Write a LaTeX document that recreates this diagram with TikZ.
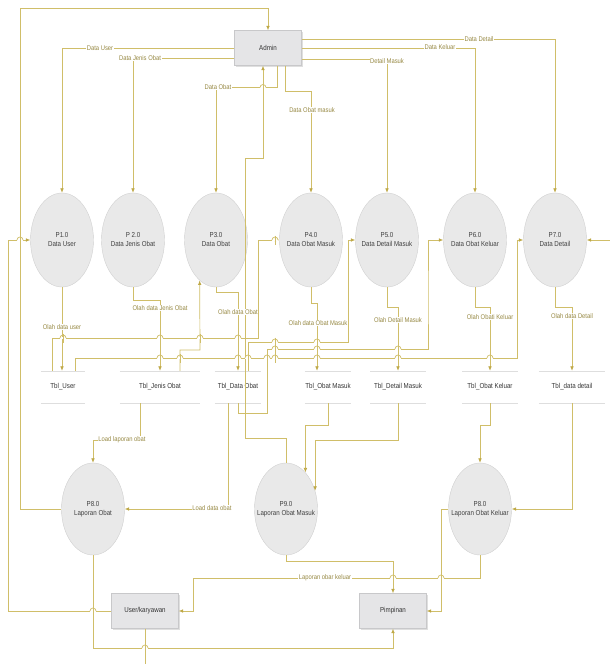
\documentclass[tikz,border=0pt]{standalone}
\usepackage{fontspec}
\setmainfont{Liberation Sans}[FakeStretch=0.86]
\usetikzlibrary{shapes.geometric, arrows, arrows.meta, shadows}

% small bump where a flow passes over another one
\newcommand{\linehop}[2]{%
  \fill[white] (#1-3.4,#2-1.2) rectangle (#1+3.4,#2+1.2);
  \draw[flow] (#1-3,#2) arc[start angle=180, end angle=0, radius=3pt];
  \draw[flow] (#1,#2-4.5) -- (#1,#2+4.5);}

\begin{document}
\begin{tikzpicture}[x=1pt, y=-1pt, >={Latex[length=4.5pt, width=3.6pt, color=tipgold]},
    proc/.style={ellipse, draw=procborder, fill=procfill, minimum width=63pt, minimum height=94pt, inner sep=0pt,
      label={[align=center, font=\fontsize{7.2}{9}\selectfont, text=black!75]center:{#1}}},
    entity/.style={rectangle, draw=boxborder, fill=boxfill, minimum width=67pt, minimum height=35pt,
      font=\fontsize{7.2}{9}\selectfont, text=black!80, drop shadow={opacity=0.25, shadow xshift=1.2pt, shadow yshift=-1.5pt}},
    store/.style={minimum height=32pt, inner sep=0pt, font=\fontsize{7.2}{9}\selectfont, text=black!80,
      append after command={(\tikzlastnode.north west) edge[storeline] (\tikzlastnode.north east)
        (\tikzlastnode.south west) edge[storeline] (\tikzlastnode.south east)}},
    storeline/.style={draw=storegrey, line width=0.6pt},
    flow/.style={draw=flowgold, line width=0.7pt},
    lbl/.style={fill=white, inner sep=0.6pt, text=lbltext, font=\fontsize{6.8}{8}\selectfont}]

    % Colours of the diagram
    \definecolor{flowgold}{RGB}{208,190,105}   % pale gold of the flows
    \definecolor{tipgold}{RGB}{190,168,70}     % arrow heads
    \definecolor{lbltext}{RGB}{150,136,66}     % olive text on the flows
    \definecolor{procfill}{RGB}{233,233,233}   % grey of the processes
    \definecolor{procborder}{RGB}{208,208,208}
    \definecolor{boxfill}{RGB}{229,229,231}    % grey of the entities
    \definecolor{boxborder}{RGB}{200,200,202}
    \definecolor{storegrey}{RGB}{222,222,222}  % lines of the data stores

    \useasboundingbox (0,0) rectangle (610,664);

    % External entities
    \node[entity] (admin) at (268,48) {Admin};
    \node[entity] (user) at (145,611) {User/karyawan};
    \node[entity] (pim) at (393,611) {Pimpinan};

    % Processes of the first row
    \node[proc={P1.0\\Data User}] (p1) at (62,240) {};
    \node[proc={P 2.0\\Data Jenis Obat}] (p2) at (133,240) {};
    \node[proc={P3.0\\Data Obat}] (p3) at (216,240) {};
    \node[proc={P4.0\\Data Obat Masuk}] (p4) at (311,240) {};
    \node[proc={P5.0\\Data Detail Masuk}] (p5) at (387,240) {};
    \node[proc={P6.0\\Data Obat Keluar}] (p6) at (475,240) {};
    \node[proc={P7.0\\Data Detail}] (p7) at (555,240) {};

    % Data stores
    \node[store, minimum width=44pt] (tu) at (63,387) {Tbl\_User};
    \node[store, minimum width=80pt] (tjo) at (160,387) {Tbl\_Jenis Obat};
    \node[store, minimum width=46pt] (tdo) at (238,387) {Tbl\_Data Obat};
    \node[store, minimum width=46pt] (tom) at (328,387) {Tbl\_Obat Masuk};
    \node[store, minimum width=55pt] (tdm) at (398,387) {Tbl\_Detail Masuk};
    \node[store, minimum width=55pt] (tok) at (490,387) {Tbl\_Obat Keluar};
    \node[store, minimum width=66pt] (tdd) at (572,387) {Tbl\_data detail};

    % Report processes
    \node[proc={P8.0\\Laporan Obat}, minimum height=92pt] (p8) at (93,509) {};
    \node[proc={P9.0\\Laporan Obat Masuk}, minimum height=92pt] (p9) at (286,509) {};
    \node[proc={P8.0\\Laporan Obat Keluar}, minimum height=92pt] (p8k) at (480,509) {};

    % Admin to the processes
    \draw[flow,->] (admin.west) -| (p1.north);
    \draw[flow,->] ([yshift=-10pt]admin.west) -| (p2.north);
    \draw[flow,->] ([xshift=9pt]admin.south) -- ++(0,22) -| (p3.north);
    \draw[flow,->] ([xshift=17pt]admin.south) -- ++(0,26) -| (p4.north);
    \draw[flow,->] ([yshift=-11pt]admin.east) -| (p5.north);
    \draw[flow,->] (admin.east) -| (p6.north);
    \draw[flow,->] ([yshift=9pt]admin.east) -| (p7.north);

    % Flows back to Admin
    \draw[flow,->] (p9.north) -- ++(0,-24) -| (245,158) -| ([xshift=-5pt]admin.south);
    \draw[flow,->] (p8.west) -| (20,8) -| (admin.north);
    \draw[flow,->] (user.west) -| (8,240) -- (p1.west);

    % Processes to the data stores
    \draw[flow,->] (p1.south) -- (p1.south |- tu.north);
    \draw[flow,->] (p2.south) -- ++(0,13) -| (tjo.north);
    \draw[flow,->] (p3.south) -- ++(0,5) -| (tdo.north);
    \draw[flow,->] (p4.south) -- ++(0,16) -| ([xshift=-11pt]tom.north);
    \draw[flow,->] (p5.south) -- ++(0,20) -| (tdm.north);
    \draw[flow,->] (p6.south) -- ++(0,20) -| (tok.north);
    \draw[flow,->] (p7.south) -- ++(0,20) -| (tdd.north);

    % Data stores back to the processes
    \draw[flow,->] ([xshift=-11pt]tu.north) |- (258,338) |- (p4.west);
    \draw[flow,->] ([xshift=12pt]tu.north) |- (517,358) |- (p7.west);
    \draw[flow,->] ([xshift=20pt]tjo.north) |- (200,350) -- (p3.248);
    \draw[flow,->] ([xshift=10pt]tdo.north) |- (348,342) |- (p5.west);
    \draw[flow,->] (tdo.south) -- ++(0,10) -| (267,349) -| (428,300) |- (p6.west);

    % Flow coming in at the right edge
    \coordinate (redge) at (610,240);
    \draw[flow,->] (redge) -- (p7.east);

    % Data stores to the reports
    \draw[flow,->] ([xshift=-20pt]tjo.south) -- ++(0,37) -| (p8.north);
    \draw[flow,->] ([xshift=-10pt]tdo.south) |- (p8.east);
    \draw[flow,->] (tom.south) -- ++(0,22) -| (p9.62);
    \draw[flow,->] (tdm.south) -- ++(0,37) -| (p9.32);
    \draw[flow,->] (tok.south) -- ++(0,22) -| (p8k.north);
    \draw[flow,->] (tdd.south) |- (p8k.east);

    % Reports to the users
    \draw[flow,->] (p8.south) |- ([yshift=-20pt]pim.south) -- (pim.south);
    \draw[flow,->] (p9.south) |- ([yshift=32pt]pim.north) -- (pim.north);
    \draw[flow,->] (p8k.west) -- ++(-7,0) |- (pim.east);
    \draw[flow,->] (p8k.south) |- (193,578) |- (user.east);
    \draw[flow] (user.south) -- ++(0,36);

    % Crossings
    \linehop{20}{240}
    \linehop{275}{240}
    \linehop{263}{87.5}
    \linehop{93}{611}
    \linehop{145}{648}
    \linehop{441}{578}
    \linehop{393}{578}
    \foreach \hx in {63,160,200,238} {\linehop{\hx}{338}}
    \foreach \hx in {160,180,238,248,267,275,317,398,490} {\linehop{\hx}{358}}
    \foreach \hx in {275,317} {\linehop{\hx}{342}}
    \foreach \hx in {275,317,398} {\linehop{\hx}{349}}

    % Labels on the flows
    \node[lbl] (ldu) at (100,48) {Data User};
    \node[lbl] (ldjo) at (140,58) {Data Jenis Obat};
    \node[lbl] (ldo) at (218,87) {Data Obat};
    \node[lbl] (ldom) at (312,110) {Data Obat masuk};
    \node[lbl] (ldm) at (387,61) {Detail Masuk};
    \node[lbl] (ldk) at (440,47) {Data Keluar};
    \node[lbl] (ldd) at (479,39) {Data Detail};
    \node[lbl] (lou) at (62,327) {Olah data user};
    \node[lbl] (lojo) at (160,308) {Olah data Jenis Obat};
    \node[lbl] (lodo) at (238,312) {Olah data Obat};
    \node[lbl] (loom) at (318,323) {Olah data Obat Masuk};
    \node[lbl] (lodm) at (398,320) {Olah Detail Masuk};
    \node[lbl] (look) at (490,317) {Olah Obati Keluar};
    \node[lbl] (lodd) at (572,316) {Olah data Detail};
    \node[lbl] (llo) at (122,440) {Load laporan obat};
    \node[lbl] (lldo) at (212,508) {Load data obat};
    \node[lbl] (llk) at (325,578) {Laporan obar keluar};
\end{tikzpicture}
\end{document}
